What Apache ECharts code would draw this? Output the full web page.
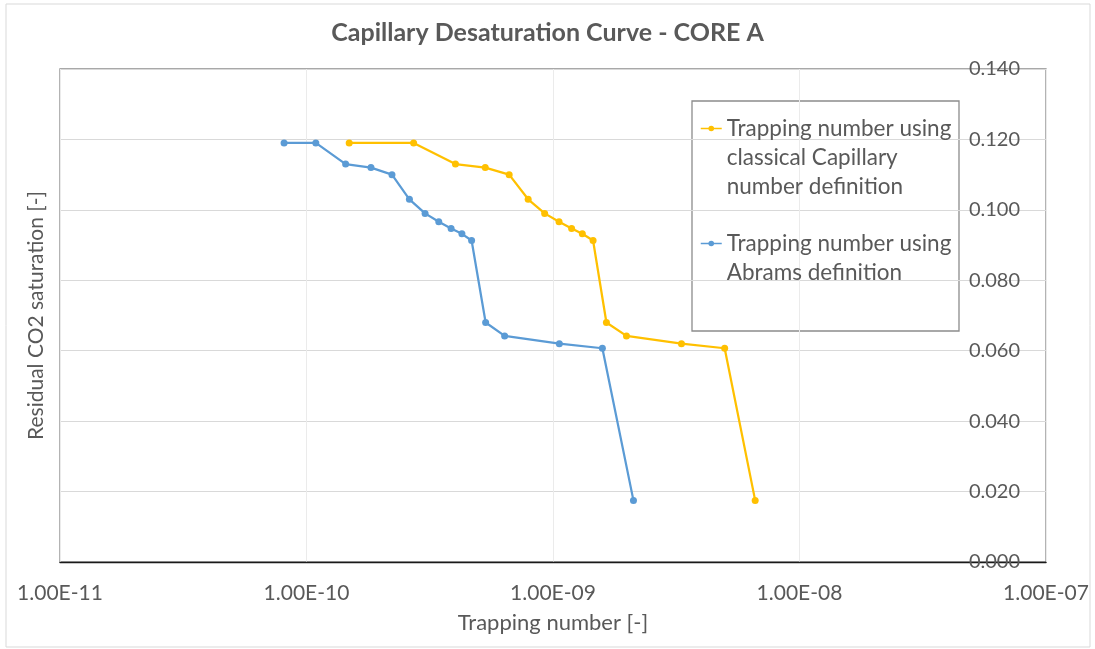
<!DOCTYPE html>
<html>
<head>
<meta charset="utf-8">
<title>Capillary Desaturation Curve - CORE A</title>
<script src="https://cdn.jsdelivr.net/npm/echarts@6/dist/echarts.min.js"></script>
<style>
  html, body { margin: 0; padding: 0; background: #ffffff; }
  #chart { width: 1095px; height: 649px; }
</style>
</head>
<body>
<div id="chart"></div>
<script>
// Residual CO2 saturation measured at each flooding step (shared by both curves)
const saturation = [0.119, 0.119, 0.113, 0.112, 0.110, 0.103, 0.099, 0.0966,
                    0.0947, 0.0932, 0.0913, 0.068, 0.0642, 0.062, 0.0607, 0.0175];

// Trapping number computed with the classical capillary number definition
const trapClassical = [1.49e-10, 2.72e-10, 4.02e-10, 5.31e-10, 6.64e-10, 7.93e-10,
                       9.25e-10, 1.058e-9, 1.19e-9, 1.315e-9, 1.454e-9, 1.647e-9,
                       1.986e-9, 3.32e-9, 4.97e-9, 6.61e-9];

// Trapping number computed with the Abrams definition
const trapAbrams = [8.11e-11, 1.091e-10, 1.441e-10, 1.826e-10, 2.222e-10, 2.615e-10,
                    3.027e-10, 3.44e-10, 3.86e-10, 4.27e-10, 4.675e-10, 5.33e-10,
                    6.365e-10, 1.061e-9, 1.586e-9, 2.12e-9];

const seriesNames = [
  'Trapping number using classical Capillary number definition',
  'Trapping number using Abrams definition'
];
const legendLines = [
  ['Trapping number using', 'classical Capillary', 'number definition'],
  ['Trapping number using', 'Abrams definition']
];

const xTickLabels = ['1.00E-11', '1.00E-10', '1.00E-09', '1.00E-08', '1.00E-07'];
const yTickLabels = ['0.000', '0.020', '0.040', '0.060', '0.080', '0.100', '0.120', '0.140'];

const FONT = 'Lato, "Open Sans", sans-serif';
const TEXT = '#595959';

const pairs = (xs, ys) => xs.map((x, i) => [x, ys[i]]);

const chart = echarts.init(document.getElementById('chart'), null, { renderer: 'canvas' });

chart.setOption({
  animation: false,
  backgroundColor: '#ffffff',
  title: {
    text: 'Capillary Desaturation Curve - CORE A',
    left: 'center',
    top: 15,
    textStyle: { fontFamily: FONT, fontSize: 25, fontWeight: 'bold', color: TEXT }
  },
  graphic: [
    {
      type: 'rect', silent: true, z: -10,
      shape: { x: 6, y: 4, width: 1084, height: 643 },
      style: { fill: null, stroke: '#d9d9d9', lineWidth: 1 }
    },
    {
      type: 'rect', silent: true,
      shape: { x: 692, y: 101, width: 267, height: 230 },
      style: { fill: null, stroke: '#8c8c8c', lineWidth: 1.3 }
    }
  ],
  legend: {
    orient: 'vertical',
    left: 700,
    top: 56,
    padding: 0,
    itemGap: -1,
    itemWidth: 21,
    itemHeight: 7,
    data: seriesNames,
    lineStyle: { width: 1.5 },
    formatter: name => {
      const lines = legendLines[seriesNames.indexOf(name)];
      return '\n'.repeat(lines.length - 1) + lines.join('\n');
    },
    textStyle: { fontFamily: FONT, fontSize: 22.5, color: TEXT, lineHeight: 29 }
  },
  grid: {
    left: 60, right: 49, top: 69, bottom: 87,
    show: true, borderColor: '#8c8c8c', borderWidth: 1.3
  },
  xAxis: {
    type: 'log',
    logBase: 10,
    min: 1e-11,
    max: 1e-7,
    name: 'Trapping number [-]',
    nameLocation: 'middle',
    nameGap: 50,
    nameTextStyle: { fontFamily: FONT, fontSize: 22, color: TEXT },
    axisLine: { show: true, lineStyle: { color: '#1a1a1a', width: 1.3 } },
    axisTick: { show: false },
    minorTick: { show: false },
    axisLabel: {
      margin: 21,
      fontFamily: FONT, fontSize: 21, color: TEXT,
      formatter: v => xTickLabels[Math.round(Math.log10(v)) + 11]
    },
    splitLine: { show: true, lineStyle: { color: '#ebebeb', width: 1 } }
  },
  yAxis: {
    type: 'value',
    position: 'left',
    min: 0,
    max: 0.14,
    interval: 0.02,
    name: 'Residual CO2 saturation [-]',
    nameLocation: 'middle',
    nameRotate: 90,
    nameGap: 13,
    nameTextStyle: { fontFamily: FONT, fontSize: 21, color: TEXT },
    axisLine: { show: false },
    axisTick: { show: false },
    axisLabel: {
      margin: -960,
      fontFamily: FONT, fontSize: 20, color: TEXT,
      formatter: v => yTickLabels[Math.round(v / 0.02)]
    },
    splitLine: { show: true, lineStyle: { color: '#d9d9d9', width: 1 } }
  },
  series: [
    {
      name: seriesNames[0],
      type: 'line',
      data: pairs(trapClassical, saturation),
      symbol: 'circle',
      symbolSize: 7,
      color: '#FFC000',
      lineStyle: { width: 2.25, color: '#FFC000' },
      itemStyle: { color: '#FFC000' },
      z: 3
    },
    {
      name: seriesNames[1],
      type: 'line',
      data: pairs(trapAbrams, saturation),
      symbol: 'circle',
      symbolSize: 7,
      color: '#5B9BD5',
      lineStyle: { width: 2.25, color: '#5B9BD5' },
      itemStyle: { color: '#5B9BD5' },
      z: 3
    }
  ]
});
</script>
</body>
</html>
